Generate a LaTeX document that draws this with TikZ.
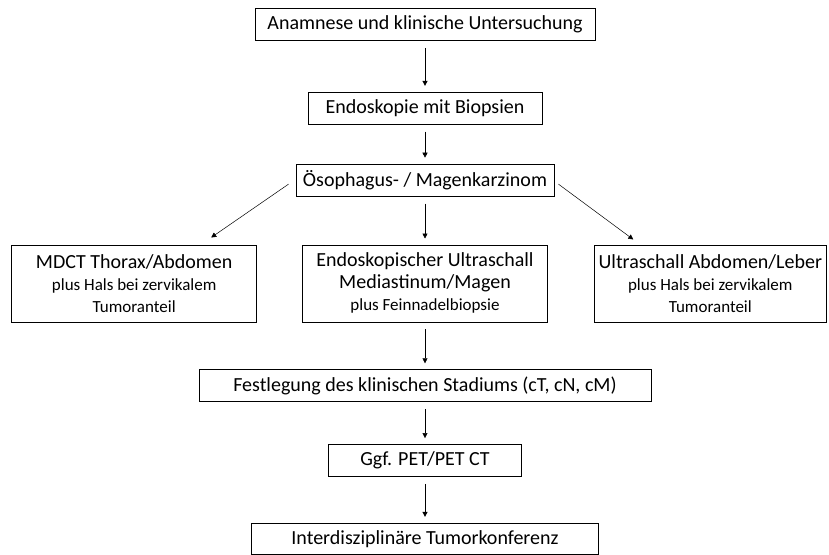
\documentclass[tikz,border=0pt]{standalone}
\usepackage{fontspec}
\setmainfont{Carlito}
\usepackage{tikz}
\usetikzlibrary{calc, positioning, arrows.meta}
\newcommand{\subline}[1]{{\fontsize{17}{21}\selectfont #1}}

\begin{document}
\begin{tikzpicture}[
  x=1pt, y=1pt,
  font=\fontsize{20}{22}\selectfont,
  flowbox/.style={draw, line width=0.8pt, minimum height=32pt, align=center, inner sep=3pt},
  tallbox/.style={flowbox, minimum height=77pt},
  flowarrow/.style={-{Triangle[length=5pt, width=5pt]}, line width=0.5pt, shorten <=7pt, shorten >=6pt}
]
\useasboundingbox (0,0) rectangle (829,-554);
\node[flowbox, minimum width=340pt] (anamnese) at (425,-24.5) {Anamnese und klinische Untersuchung};
\node[flowbox, minimum width=234pt, below=51pt of anamnese] (endo) {Endoskopie mit Biopsien};
\node[flowbox, minimum width=258pt, below=39pt of endo] (oeso) {Ösophagus- / Magenkarzinom};
\node[tallbox, minimum width=245pt, below=48pt of oeso] (eus) {Endoskopischer Ultraschall\\Mediastinum/Magen\\\subline{plus Feinnadelbiopsie}};
\node[tallbox, minimum width=245pt, left=45pt of eus] (mdct) {MDCT Thorax/Abdomen\\\subline{plus Hals bei zervikalem}\\\subline{Tumoranteil}};
\node[tallbox, minimum width=232pt, right=46pt of eus] (sono) {Ultraschall Abdomen/Leber\\\subline{plus Hals bei zervikalem}\\\subline{Tumoranteil}};
\node[flowbox, minimum width=452pt, below=47pt of eus] (stadium) {Festlegung des klinischen Stadiums (cT, cN, cM)};
\node[flowbox, minimum width=193pt, below=42pt of stadium] (pet) {Ggf. PET/PET CT};
\node[flowbox, minimum width=347pt, minimum height=31pt, below=46pt of pet] (konferenz) {Interdisziplinäre Tumorkonferenz};
\draw[flowarrow] (anamnese) -- (endo);
\draw[flowarrow] (endo) -- (oeso);
\draw[flowarrow] (oeso) -- (eus);
\draw[flowarrow, shorten <=0pt, shorten >=0pt] ($(oeso.west)+(-7,-4)$) -- ($(mdct.north)+(77,7)$);
\draw[flowarrow, shorten <=0pt, shorten >=0pt] ($(oeso.east)+(4,-4)$) -- ($(sono.north)+(-77,5)$);
\draw[flowarrow] (eus) -- (stadium);
\draw[flowarrow] (stadium) -- (pet);
\draw[flowarrow] (pet) -- (konferenz);
\end{tikzpicture}
\end{document}
